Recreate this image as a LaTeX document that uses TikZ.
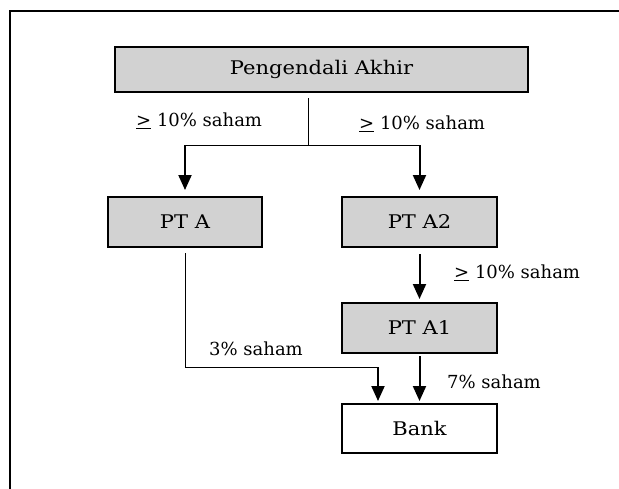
\documentclass[tikz,border=0pt]{standalone}
\usepackage{fontspec}
\setmainfont{DejaVu Serif}
\newfontfamily\boxfont[FakeStretch=1.12]{DejaVu Serif}
\usetikzlibrary{arrows.meta}
\definecolor{boxgray}{HTML}{D2D2D2}
\begin{document}
\begin{tikzpicture}[x=1pt,y=-1pt,
  txt/.style={font=\fontsize{18}{20}\selectfont},
  box/.style={draw,line width=2pt,fill=boxgray,minimum width=155pt,minimum height=50pt,inner sep=0pt,outer sep=0pt,font=\boxfont\fontsize{18.8}{21}\selectfont},
  whitebox/.style={box,fill=white},
  lbl/.style={anchor=west,inner sep=0pt,txt},
  thinline/.style={line width=1pt},
  arr/.style={line width=2pt,-{Triangle[width=13pt,length=15pt]}}
]
\useasboundingbox (0,0) rectangle (619,488);
% frame
\draw[line width=2pt] (10,500) -- (10,11) -- (640,11);
% boxes
\node[box,minimum width=413pt,minimum height=45pt] (top) at (321.5,69.5) {Pengendali Akhir};
\node[box,minimum width=154pt] (pta) at (185,222) {PT A};
\node[box] (pta2) at (419.5,222) {PT A2};
\node[box] (pta1) at (419.5,328) {PT A1};
\node[whitebox,minimum height=49pt] (bank) at (419.5,428.5) {Bank};
% coordinates
\coordinate (br) at (308,145);
\coordinate (brs) at (308,98);
\coordinate (ptab) at (185,253);
\coordinate (turn) at (185,367);
\coordinate (turn2) at (378,367);
% labels
\node[lbl] (l1) at (136,121) {\underline{>} 10\% saham};
\node[lbl] (l2) at (359,124) {\underline{>} 10\% saham};
\node[lbl] (l3) at (454,273) {\underline{>} 10\% saham};
\node[lbl] (l4) at (209,349) {3\% saham};
\node[lbl] (l5) at (447,382) {7\% saham};
% connectors
\draw[thinline] (brs) -- (br);
\draw[thinline] (br -| pta) -- (br -| pta2);
\draw[arr,shorten >=7pt] (br -| pta) -- (pta.north);
\draw[arr,shorten >=7pt] (br -| pta2) -- (pta2.north);
\draw[arr,shorten <=7pt,shorten >=4pt] (pta2.south) -- (pta1.north);
\draw[arr,shorten <=3pt,shorten >=3pt] (pta1.south) -- (bank.north);
\draw[thinline] (ptab) -- (turn) -- (turn2);
\draw[arr,shorten >=3pt] (turn2) -- (turn2 |- bank.north);
\end{tikzpicture}
\end{document}
